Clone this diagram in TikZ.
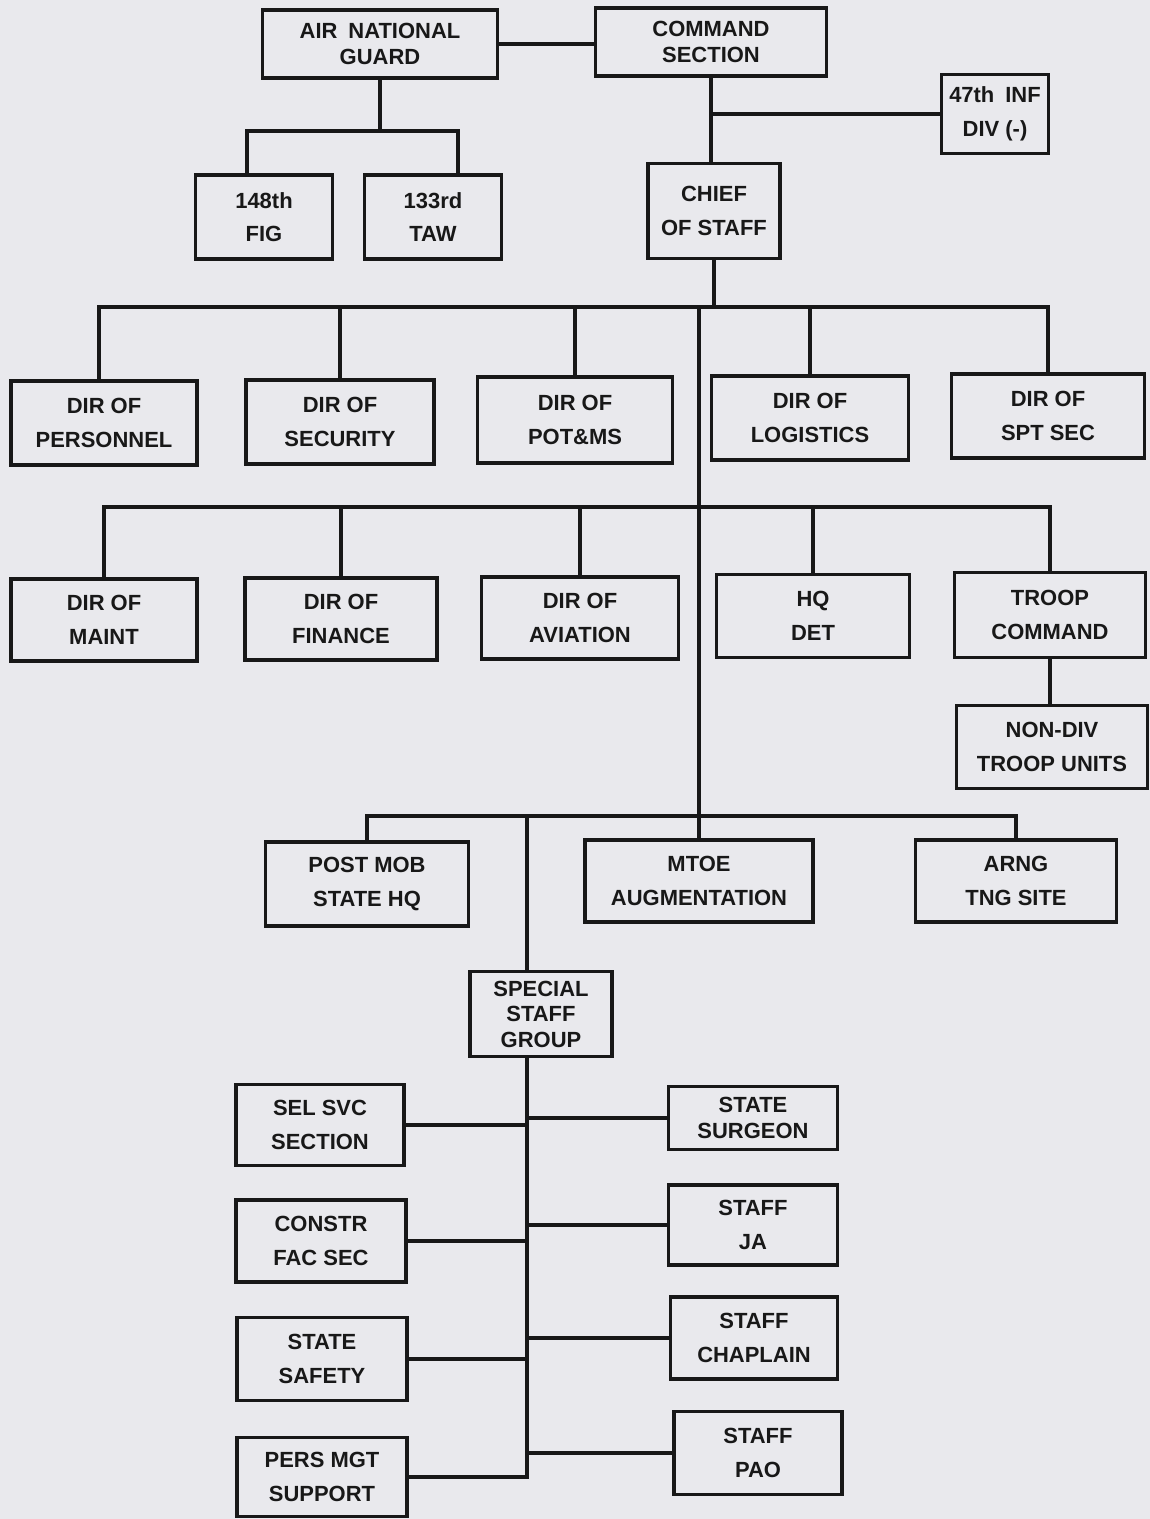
\documentclass[tikz,border=0pt]{standalone}
\usepackage{fontspec}
\setmainfont{Liberation Sans}
\usepackage{xcolor}
\usepackage{tikz}
\definecolor{paper}{RGB}{233,233,237}
\definecolor{ink}{RGB}{24,24,24}

\begin{document}
\begin{tikzpicture}[x=0.02cm, y=-0.02cm,
    box/.style={rectangle, draw=ink, line width=2pt, align=center, inner sep=0pt, text=ink, font=\fontsize{12.5}{19}\selectfont\bfseries},
    tight/.style={font=\fontsize{12.5}{15}\selectfont\bfseries},
    link/.style={draw=ink, line width=2pt}]

      % Hintergrund
      \fill[paper] (0,0) rectangle (1150,1519);
      \useasboundingbox (0,0) rectangle (1150,1519);

      % Oben
      \node[box, tight, minimum width=4.7cm, minimum height=1.36cm] (ang) at (380,44) {AIR\enspace NATIONAL\\GUARD};
      \node[box, tight, minimum width=4.62cm, minimum height=1.36cm] (cmd) at (711,42) {COMMAND\\SECTION};
      \node[box, minimum width=2.14cm, minimum height=1.58cm] (inf) at (995,114) {47th\enspace INF\\DIV (-)};
      \node[box, minimum width=2.74cm, minimum height=1.68cm] (fig) at (264,217) {148th\\FIG};
      \node[box, minimum width=2.74cm, minimum height=1.68cm] (taw) at (433,217) {133rd\\TAW};
      \node[box, minimum width=2.64cm, minimum height=1.9cm] (cos) at (714,211) {CHIEF\\OF STAFF};

      % Erste Reihe
      \node[box, minimum width=3.72cm, minimum height=1.68cm] (pers) at (104,423) {DIR OF\\PERSONNEL};
      \node[box, minimum width=3.76cm, minimum height=1.68cm] (sec) at (340,422) {DIR OF\\SECURITY};
      \node[box, minimum width=3.9cm, minimum height=1.72cm] (pot) at (575,420) {DIR OF\\POT\&MS};
      \node[box, minimum width=3.94cm, minimum height=1.68cm] (log) at (810,418) {DIR OF\\LOGISTICS};
      \node[box, minimum width=3.86cm, minimum height=1.68cm] (spt) at (1048,416) {DIR OF\\SPT SEC};

      % Zweite Reihe
      \node[box, minimum width=3.72cm, minimum height=1.64cm] (maint) at (104,620) {DIR OF\\MAINT};
      \node[box, minimum width=3.84cm, minimum height=1.64cm] (fin) at (341,619) {DIR OF\\FINANCE};
      \node[box, minimum width=3.94cm, minimum height=1.64cm] (avn) at (580,618) {DIR OF\\AVIATION};
      \node[box, minimum width=3.86cm, minimum height=1.66cm] (hq) at (813,616) {HQ\\DET};
      \node[box, minimum width=3.82cm, minimum height=1.7cm] (troop) at (1050,615) {TROOP\\COMMAND};
      \node[box, minimum width=3.82cm, minimum height=1.66cm] (nondiv) at (1052,747) {NON-DIV\\TROOP UNITS};

      % Dritte Reihe
      \node[box, minimum width=4.06cm, minimum height=1.68cm] (pmob) at (367,884) {POST MOB\\STATE HQ};
      \node[box, minimum width=4.56cm, minimum height=1.64cm] (mtoe) at (699,881) {MTOE\\AUGMENTATION};
      \node[box, minimum width=4.02cm, minimum height=1.64cm] (arng) at (1016,881) {ARNG\\TNG SITE};

      % Sonderstab
      \node[box, minimum width=2.84cm, minimum height=1.7cm, font=\fontsize{12.5}{14.5}\selectfont\bfseries] (ssg) at (541,1014) {SPECIAL\\STAFF\\GROUP};
      \node[box, minimum width=3.36cm, minimum height=1.62cm] (sel) at (320,1125) {SEL SVC\\SECTION};
      \node[box, minimum width=3.4cm, minimum height=1.64cm] (constr) at (321,1241) {CONSTR\\FAC SEC};
      \node[box, minimum width=3.4cm, minimum height=1.66cm] (safety) at (322,1359) {STATE\\SAFETY};
      \node[box, minimum width=3.4cm, minimum height=1.58cm] (pmgt) at (322,1477) {PERS MGT\\SUPPORT};
      \node[box, tight, minimum width=3.38cm, minimum height=1.26cm] (surg) at (753,1118) {STATE\\SURGEON};
      \node[box, minimum width=3.38cm, minimum height=1.6cm] (ja) at (753,1225) {STAFF\\JA};
      \node[box, minimum width=3.34cm, minimum height=1.64cm] (chap) at (754,1338) {STAFF\\CHAPLAIN};
      \node[box, minimum width=3.36cm, minimum height=1.66cm] (pao) at (758,1453) {STAFF\\PAO};

      % Linien oben
      \coordinate (angbar) at (380,131);
      \draw[link] (ang.east) -- (ang.east -| cmd.west);
      \draw[link] (ang.south) -- (angbar);
      \draw[link] ([xshift=-0.34cm]fig.north) |- (angbar) -| ([xshift=0.5cm]taw.north);
      \draw[link] (cmd.south) -- (cmd.south |- cos.north);
      \draw[link] (cmd.south |- inf.west) -- (inf.west);

      % Linien erste Reihe
      \coordinate (row1) at (0,307);
      \draw[link] (cos.south) -- (cos.south |- row1);
      \draw[link] ([xshift=-0.1cm]pers.north) |- (spt.north |- row1) -- (spt.north);
      \foreach \n in {sec,pot,log}
        \draw[link] (\n.north) -- (\n.north |- row1);

      % Hauptlinie
      \draw[link] (mtoe.north |- row1) -- (mtoe.north);

      % Linien zweite Reihe
      \coordinate (row2) at (0,507);
      \draw[link] (maint.north) |- (troop.north |- row2) -- (troop.north);
      \foreach \n in {fin,avn,hq}
        \draw[link] (\n.north) -- (\n.north |- row2);
      \draw[link] (troop.south) -- (troop.south |- nondiv.north);

      % Linien dritte Reihe
      \coordinate (row3) at (0,816);
      \coordinate (spine) at (527,0);
      \draw[link] (pmob.north) |- (arng.north |- row3) -- (arng.north);
      \draw[link] (spine |- row3) -- (spine |- ssg.north);

      % Linien Sonderstab
      \draw[link] (spine |- ssg.south) |- (pmgt.east);
      \foreach \n in {sel,constr,safety}
        \draw[link] (\n.east) -- (spine |- \n.east);
      \foreach \n in {surg,ja,chap,pao}
        \draw[link] (spine |- \n.west) -- (\n.west);

\end{tikzpicture}
\end{document}
